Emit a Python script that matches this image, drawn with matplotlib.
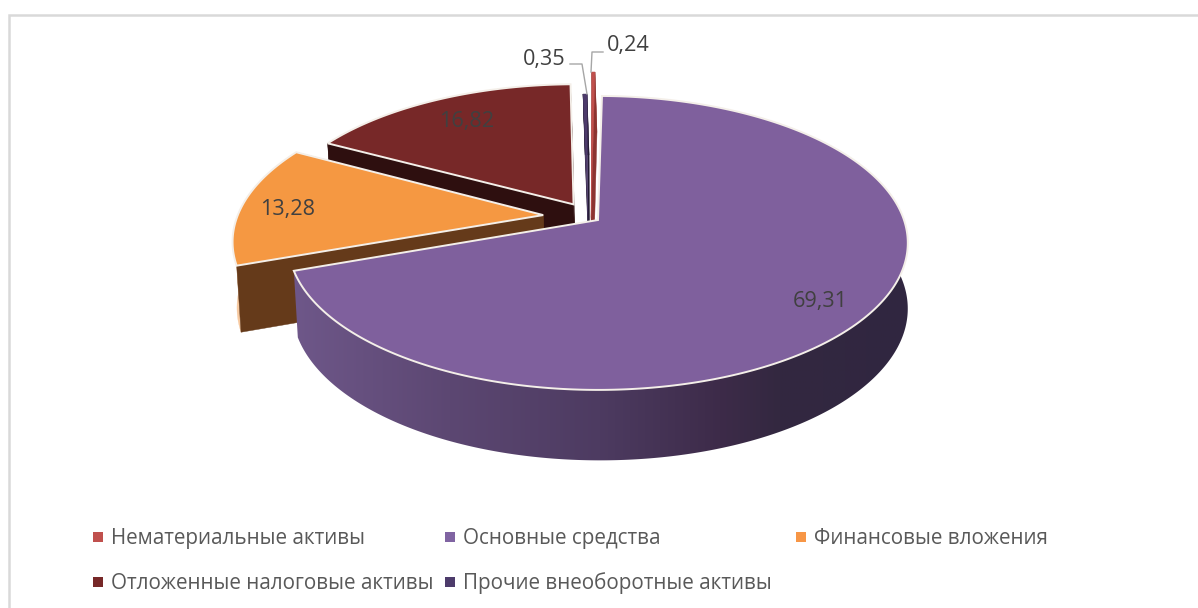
import numpy as np
import matplotlib
matplotlib.use("Agg")
import matplotlib.pyplot as plt
from matplotlib.colors import to_rgb
from matplotlib.patches import Polygon

categories = ["Нематериальные активы", "Основные средства", "Финансовые вложения",
              "Отложенные налоговые активы", "Прочие внеоборотные активы"]
values = [0.24, 69.31, 13.28, 16.82, 0.35]
value_labels = ["0,24", "69,31", "13,28", "16,82", "0,35"]

top_colors = ["#c0504d", "#7f609d", "#f59842", "#772828", "#4d3b6b"]
face_colors = ["#8c3431", None, "#653a1a", "#2e0f0f", "#241a33"]
rim_colors = ["#a03e3b", None, "#f7c9a0", "#2e0f0f", "#2a2040"]
legend_colors = ["#c0504d", "#8064a2", "#f79646", "#772828", "#4d3b6b"]

# style per slice: explosion, radius scale, nudges in px, drawn width of the thin ones
explode = [0.02, 0.0, 0.18, 0.13, 0.0]
radius = [1.21, 1.0, 1.0, 1.0, 1.018]
nudge_x = [-7, 0, 0, -4, -10]
nudge_y = [0, 0, -3, 0, 0]
narrow = [0.7, 1, 1, 1, 0.7]
edge_lw = [0, 1.4, 1.4, 1.4, 0]

# purple wall shading along x
shade_x = [295, 450, 600, 720, 780, 910]
shade_c = ["#6e5789", "#5c4772", "#4d3b61", "#3d2b49", "#332840", "#302640"]

W, H = 1198, 608
K = 0.156
# plane: centre x, centre y, x scale, y scale
TOP = (598, 220, 306, 143.4)
BOTTOM = (600, 285, 304, 148)


def project(u, v, plane, dx=0, dy=0):
    x0, y0, a, b = plane
    d = 1 - K * v
    return x0 + dx + a * u / d, y0 + dy + b * v / d


def gradient_wall(ax, xs, ys):
    patch = Polygon(np.c_[xs, ys], closed=True, transform=ax.transData)
    x0, x1 = xs.min() - 1, xs.max() + 1
    grid = np.linspace(x0, x1, 600)
    rgb = np.array([to_rgb(c) for c in shade_c])
    img = np.stack([np.interp(grid, shade_x, rgb[:, i]) for i in range(3)], axis=1)[None, :, :]
    im = ax.imshow(img, extent=(x0, x1, ys.max() + 1, ys.min() - 1), aspect="auto",
                   interpolation="bilinear", zorder=1)
    im.set_clip_path(patch)
    ax.set_xlim(0, W)
    ax.set_ylim(H, 0)


def draw_slice(ax, a0, a1, i):
    m = (a0 + a1) / 2
    half = (a1 - a0) / 2 * narrow[i]
    mid = np.radians(m)
    ox, oy = explode[i] * np.sin(mid), -explode[i] * np.cos(mid)
    t = np.radians(np.linspace(m - half, m + half, max(int(2 * half / 0.5), 2) + 1))
    us = ox + radius[i] * np.sin(t)
    vs = oy - radius[i] * np.cos(t)
    dx, dy = nudge_x[i], nudge_y[i]

    ax_top, ay_top = project(ox, oy, TOP, dx, dy)
    ax_bot, ay_bot = project(ox, oy, BOTTOM, dx, dy)
    x_top, y_top = project(us, vs, TOP, dx, dy)
    x_bot, y_bot = project(us, vs, BOTTOM, dx, dy)

    # outer wall
    wall_x = np.r_[x_top, x_bot[::-1]]
    wall_y = np.r_[y_top, y_bot[::-1]]
    if rim_colors[i]:
        ax.fill(wall_x, wall_y, color=rim_colors[i], lw=0.2)
    else:
        gradient_wall(ax, wall_x, wall_y)
    # the two cut faces, the big slice hides its own
    if face_colors[i]:
        for k in (0, -1):
            ax.fill([ax_top, x_top[k], x_bot[k], ax_bot], [ay_top, y_top[k], y_bot[k], ay_bot],
                    color=face_colors[i], lw=0.3)
    # top
    ax.fill(np.r_[ax_top, x_top], np.r_[ay_top, y_top], facecolor=top_colors[i],
            edgecolor="#f4efe9" if edge_lw[i] else top_colors[i], lw=edge_lw[i] or 0.2,
            joinstyle="miter")


fig = plt.figure(figsize=(W / 100, H / 100), dpi=100)
ax = fig.add_axes([0, 0, 1, 1])
ax.set_xlim(0, W)
ax.set_ylim(H, 0)
ax.axis("off")

plt.rcParams["font.family"] = ["Open Sans", "DejaVu Sans"]

# chart frame, open on the right and at the bottom
ax.plot([9, 9, W], [H, 15, 15], color="#d9d9d9", lw=1.8, solid_joinstyle="miter")

bounds = np.r_[0, np.cumsum(values)] / sum(values) * 360
for i in [3, 4, 0, 2, 1]:
    draw_slice(ax, bounds[i], bounds[i + 1], i)

label_pos = [(628, 45), (820, 302), (288, 209), (467, 121), (544, 59)]
for i, (x, y) in enumerate(label_pos):
    ax.text(x, y, value_labels[i], ha="center", va="center", fontsize=15.6, color="#404040",
            zorder=5)

# leader lines for the two thin slices
ax.plot([603, 592, 591], [52, 52, 72], color="#a6a6a6", lw=1, zorder=4)
ax.plot([570, 582, 587], [64, 64, 94], color="#a6a6a6", lw=1, zorder=4)

legend_x = [98, 450, 801, 98, 450]
legend_y = [537, 537, 537, 582, 582]
for i in range(len(categories)):
    ax.scatter(legend_x[i], legend_y[i], marker="s", s=50, color=legend_colors[i], lw=0)
    ax.text(legend_x[i] + 13, legend_y[i] + 1.5, categories[i], ha="left", va="center",
            fontsize=14.85, color="#595959")

fig.savefig("out.png", dpi=100)
